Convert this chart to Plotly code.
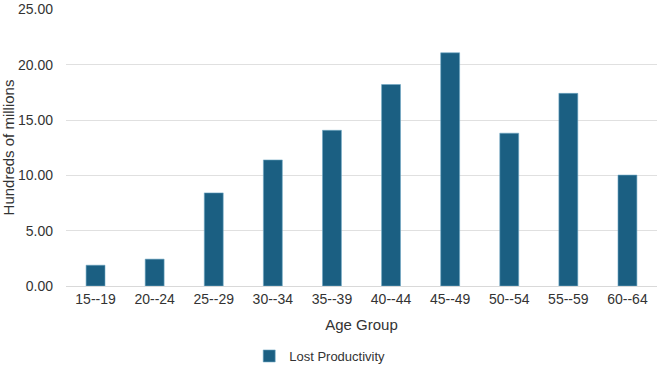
import plotly.graph_objects as go

age_groups = ["15--19", "20--24", "25--29", "30--34", "35--39",
              "40--44", "45--49", "50--54", "55--59", "60--64"]
lost_productivity = [1.88, 2.43, 8.42, 11.40, 14.08, 18.22, 21.09, 13.82, 17.42, 10.03]
y_ticks = [0, 5, 10, 15, 20, 25]

fig = go.Figure()
fig.add_trace(go.Bar(
    x=age_groups, y=lost_productivity, name="Lost Productivity",
    marker=dict(color="#1b5f82", line=dict(color="#6fa7c4", width=0.6)),
    showlegend=True,
))

fig.update_layout(
    width=659, height=372,
    margin=dict(l=66, r=2, t=9, b=86),
    plot_bgcolor="white", paper_bgcolor="white",
    font=dict(family="Liberation Sans, Arial, sans-serif", size=14, color="#333333"),
    bargap=0.68,
    showlegend=True,
    legend=dict(orientation="h", x=0.31, xanchor="left", xref="paper",
                y=0.043, yanchor="middle", yref="container",
                font=dict(size=13, color="#333333"), bgcolor="rgba(0,0,0,0)"),
    xaxis=dict(title=dict(text="Age Group", font=dict(size=15, color="#333333"), standoff=13),
               showgrid=False, showline=True, linecolor="#d9d9d9", linewidth=1,
               ticks="", tickfont=dict(size=14, color="#333333")),
    yaxis=dict(title=dict(text="Hundreds of millions", font=dict(size=15, color="#333333"), standoff=4),
               range=[0, 25.05], tickvals=y_ticks,
               ticktext=[f"{v:.2f}" for v in y_ticks],
               showgrid=True, gridcolor="#e0e0e0", gridwidth=1, zeroline=False,
               ticklabeloverflow="allow", automargin="left",
               ticks="", ticklabelstandoff=12, tickfont=dict(size=14, color="#333333")),
)

fig.write_html("out.html")
